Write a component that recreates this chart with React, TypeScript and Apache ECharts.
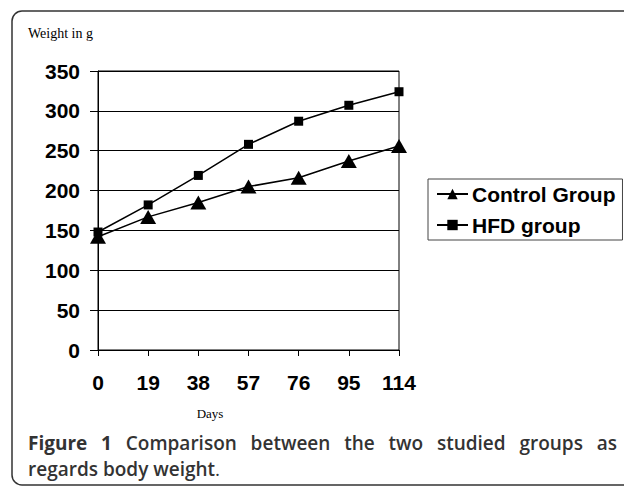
import React, { useEffect, useRef } from "react";
import * as echarts from "echarts";

const days = ["0", "19", "38", "57", "76", "95", "114"];
const controlGroup = [142, 167, 185, 205, 216, 237, 256];
const hfdGroup = [148, 182, 219, 258, 287, 307, 324];
const yTicks = { min: 0, max: 350, interval: 50 };
const captionLine1 = ["Figure", "1", "Comparison", "between", "the", "two", "studied", "groups", "as"];
const captionBoldWords = 2;

export default function App() {
  const ref = useRef<HTMLDivElement>(null);
  useEffect(() => {
    if (!ref.current) return;
    const chart = echarts.init(ref.current, null, { renderer: "svg" });
    const axisFont = { fontFamily: "Liberation Sans, Arial, sans-serif", fontWeight: "bold" as const, fontSize: 21, color: "#000" };

    // justified caption line
    const fontBold = "bold 19px 'Open Sans'";
    const fontSemi = "600 19px 'Open Sans'";
    const ctx = document.createElement("canvas").getContext("2d")!;
    const widths = captionLine1.map((w, i) => {
      ctx.font = i < captionBoldWords ? fontBold : fontSemi;
      return ctx.measureText(w).width;
    });
    const x0 = 28, x1 = 617;
    const total = widths.reduce((a, b) => a + b, 0);
    const gap = (x1 - x0 - total) / (captionLine1.length - 1);
    let cx = x0;
    const captionTexts: any[] = captionLine1.map((w, i) => {
      const el = {
        type: "text",
        x: cx,
        y: 443,
        style: { text: w, font: i < captionBoldWords ? fontBold : fontSemi, fill: "#333", verticalAlign: "middle" },
      };
      cx += widths[i] + gap;
      return el;
    });

    chart.setOption({
      animation: false,
      backgroundColor: "#fff",
      grid: { left: 98, top: 71, width: 301, height: 279, show: true, borderColor: "#000", borderWidth: 1, backgroundColor: "transparent" },
      xAxis: {
        type: "category",
        data: days,
        boundaryGap: false,
        axisLine: { lineStyle: { color: "#000", width: 1 } },
        axisTick: { show: true, length: 6, lineStyle: { color: "#000" } },
        axisLabel: { ...axisFont, margin: 22 },
        splitLine: { show: false },
      },
      yAxis: {
        type: "value",
        min: yTicks.min,
        max: yTicks.max,
        interval: yTicks.interval,
        axisLine: { show: true, lineStyle: { color: "#000", width: 1 } },
        axisTick: { show: true, length: 8, lineStyle: { color: "#000" } },
        axisLabel: { ...axisFont, margin: 18 },
        splitLine: { show: true, lineStyle: { color: "#000", width: 1 } },
      },
      legend: {
        orient: "vertical",
        left: 428,
        top: 179,
        padding: [4, 7, 4, 8],
        itemGap: 9,
        itemWidth: 31,
        itemHeight: 13,
        borderColor: "#444",
        borderWidth: 1,
        backgroundColor: "#fff",
        textStyle: { fontFamily: "Liberation Sans, Arial, sans-serif", fontWeight: "bold", fontSize: 21, color: "#000", lineHeight: 22, padding: [0, 0, 0, -1] },
        data: ["Control Group", "HFD group"],
      },
      series: [
        {
          name: "Control Group",
          type: "line",
          data: controlGroup,
          symbol: "triangle",
          symbolSize: [16, 14],
          lineStyle: { color: "#000", width: 1.5 },
          itemStyle: { color: "#000" },
        },
        {
          name: "HFD group",
          type: "line",
          data: hfdGroup,
          symbol: "rect",
          symbolSize: 9,
          lineStyle: { color: "#000", width: 1.5 },
          itemStyle: { color: "#000" },
        },
      ],
      graphic: [
        { type: "rect", shape: { x: 12, y: 11, width: 640, height: 474, r: 10 }, style: { fill: "none", stroke: "#333", lineWidth: 1.5 }, z: -10 },
        { type: "text", x: 28, y: 33, style: { text: "Weight in g", font: "14px 'Liberation Serif', 'Times New Roman', serif", fill: "#000", verticalAlign: "middle" } },
        { type: "text", x: 210, y: 413, style: { text: "Days", font: "13px 'Liberation Serif', 'Times New Roman', serif", fill: "#000", align: "center", verticalAlign: "middle" } },
        ...captionTexts,
        {
          type: "text",
          x: 28,
          y: 469,
          style: {
            text: "{s|regards body weight}{r|.}",
            verticalAlign: "middle",
            rich: {
              s: { fontFamily: "Open Sans", fontWeight: 600, fontSize: 19, fill: "#333" },
              r: { fontFamily: "Open Sans", fontWeight: "normal", fontSize: 19, fill: "#333" },
            },
            font: "19px 'Open Sans'",
            fill: "#333",
          },
        },
      ],
    });
    return () => chart.dispose();
  }, []);
  return <div ref={ref} style={{ width: 624, height: 488, position: "absolute", left: 0, top: 0 }} />;
}
